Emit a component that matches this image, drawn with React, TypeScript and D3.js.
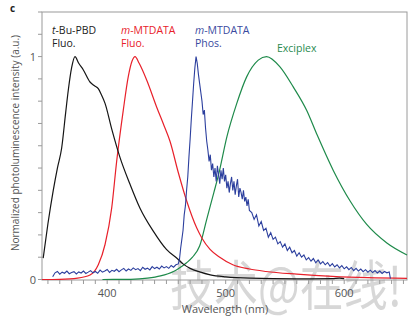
import React from "react";
import * as d3 from "d3";

const W = 418, H = 323;

const blackWl = [346, 350, 354.5, 358, 361.6, 365, 367.2, 370, 372.8, 376, 379.9, 385.5, 389, 392.5, 395, 398.2, 403.8, 410.8, 419.3, 427.7, 438.9, 450, 460, 464, 470, 478, 487, 500, 520, 560, 590, 596, 600];
const blackVal = [0.096, 0.25, 0.4, 0.5, 0.59, 0.75, 0.85, 0.95, 1.0, 0.97, 0.94, 0.886, 0.87, 0.856, 0.83, 0.79, 0.676, 0.548, 0.427, 0.32, 0.217, 0.135, 0.09, 0.07, 0.05, 0.034, 0.021, 0.012, 0.006, 0.003, 0.004, 0.006, 0.004];

const redWl = [345, 360, 375, 385.5, 392.5, 398.2, 403.8, 408, 413.6, 417.8, 421, 423.5, 427, 433.4, 441.8, 448, 453, 460, 467.1, 475.5, 480, 486.8, 495, 506, 520, 534, 560, 590, 620, 653];
const redVal = [0.0, 0.001, 0.006, 0.02, 0.066, 0.157, 0.32, 0.53, 0.76, 0.91, 0.98, 1.0, 0.97, 0.894, 0.773, 0.69, 0.62, 0.48, 0.352, 0.232, 0.185, 0.135, 0.1, 0.066, 0.047, 0.036, 0.024, 0.014, 0.008, 0.005];

const greenWl = [396, 420, 434, 445, 456, 460, 467, 472, 478, 484, 490, 494, 501, 509.3, 517.7, 527.5, 534.5, 545.8, 557, 568.4, 576.8, 590.9, 605, 619, 636, 653];
const greenVal = [0.0, 0.001, 0.006, 0.016, 0.036, 0.048, 0.075, 0.1, 0.15, 0.27, 0.39, 0.47, 0.64, 0.789, 0.909, 0.984, 1.0, 0.954, 0.864, 0.758, 0.653, 0.488, 0.352, 0.247, 0.164, 0.11];

const blueWl = [
  354, 356, 358, 360, 362, 364, 366, 368, 370, 372, 374, 376, 378, 380, 382, 384, 386, 388, 390, 392,
  394, 396, 398, 400, 402, 404, 406, 408, 410, 412, 414, 416, 418, 420, 422, 424, 426, 428, 430, 432,
  434, 436, 438, 440, 442, 444, 446, 448, 450, 452, 454, 456, 458, 460,
  461, 462, 463, 464, 465, 466, 467, 468, 469, 470, 471, 472, 473, 474, 475, 476, 477, 478, 479, 480,
  481, 482, 483, 484, 485, 486, 487, 488, 489, 490, 491, 492, 493, 494, 495, 496, 497, 498, 499, 500,
  501, 502, 503, 504, 505, 506, 507, 508, 509, 510, 511, 512, 513, 514, 515, 516, 517, 518, 519, 520,
  522, 524, 526, 528, 530, 532, 534, 536, 538, 540, 542, 544, 546, 548, 550, 552, 554, 556, 558, 560,
  562, 564, 566, 568, 570, 572, 574, 576, 578, 580, 582, 584, 586, 588, 590, 592, 594, 596, 598, 600,
  602, 604, 606, 608, 610, 612, 614, 616, 618, 620, 622, 624, 626, 628, 630, 632, 634, 636, 638, 639,
];
const blueVal = [
  0.012, 0.03, 0.036, 0.024, 0.033, 0.028, 0.038, 0.026, 0.031, 0.035, 0.025, 0.034, 0.029, 0.038, 0.027, 0.033, 0.04, 0.03, 0.036, 0.028,
  0.042, 0.033, 0.038, 0.045, 0.032, 0.041, 0.037, 0.046, 0.035, 0.043, 0.05, 0.038, 0.047, 0.041, 0.052, 0.044, 0.049, 0.04, 0.055, 0.046,
  0.051, 0.043, 0.058, 0.049, 0.055, 0.047, 0.06, 0.052, 0.058, 0.05, 0.063, 0.055, 0.066, 0.07,
  0.09, 0.14, 0.18, 0.22, 0.29, 0.33, 0.4, 0.46, 0.55, 0.63, 0.72, 0.8, 0.88, 0.95, 1.0, 0.97, 0.92, 0.88, 0.84, 0.8,
  0.74, 0.76, 0.68, 0.62, 0.58, 0.53, 0.56, 0.49, 0.52, 0.46, 0.5, 0.44, 0.51, 0.47, 0.43, 0.49, 0.45, 0.5, 0.44, 0.47,
  0.41, 0.44, 0.39, 0.43, 0.46, 0.4, 0.44, 0.38, 0.42, 0.45, 0.37, 0.41, 0.39, 0.36, 0.4, 0.35, 0.37, 0.33, 0.36, 0.31,
  0.3, 0.27, 0.29, 0.24, 0.26, 0.22, 0.23, 0.19, 0.21, 0.18, 0.19, 0.16, 0.17, 0.145, 0.16, 0.13, 0.145, 0.12, 0.13, 0.105,
  0.12, 0.1, 0.11, 0.088, 0.098, 0.082, 0.094, 0.075, 0.088, 0.07, 0.08, 0.066, 0.076, 0.06, 0.071, 0.056, 0.066, 0.052, 0.062, 0.048,
  0.057, 0.044, 0.054, 0.04, 0.05, 0.038, 0.047, 0.035, 0.044, 0.033, 0.042, 0.031, 0.04, 0.029, 0.038, 0.027, 0.036, 0.03, 0.034, 0.004,
];

const yTicks = [0, 0.1, 0.2, 0.3, 0.4, 0.5, 0.6, 0.7, 0.8, 0.9, 1.0, 1.1, 1.2];
const yLabels = [0, 1];
const xTicks = d3.range(350, 651, 10);
const xLabels = [400, 500, 600];

const FONT = "'Open Sans', 'DejaVu Sans', sans-serif";

export default function App() {
  const x = d3.scaleLinear().domain([345, 653]).range([42, 407]);
  const y = d3.scaleLinear().domain([0, 1.2]).range([279.5, 12]);
  const smooth = (wl: number[], v: number[]) =>
    d3.line<number>().x((_, i) => x(wl[i])).y((d) => y(d)).curve(d3.curveMonotoneX)(v) || "";
  const jag = (wl: number[], v: number[]) =>
    d3.line<number>().x((_, i) => x(wl[i])).y((d) => y(d))(v) || "";

  const axisColor = "#9a9a9a";
  const textColor = "#555";

  return (
    <svg width={W} height={H} style={{ position: "absolute", left: 0, top: 0, background: "#fff" }} fontFamily={FONT}>
      {/* watermark */}
      <text
        x={170}
        y={306}
        fontSize={54}
        textLength={232}
        lengthAdjust="spacingAndGlyphs"
        fontFamily="'Noto Sans CJK SC', sans-serif"
        fill="#bdbdbd"
        opacity={0.6}
      >
        技术@在线!
      </text>

      {/* frame */}
      <rect x={42} y={12} width={365} height={268} fill="none" stroke={axisColor} strokeWidth={1} />

      {/* y ticks */}
      {yTicks.map((t) => (
        <line key={"yt" + t} x1={38} x2={42} y1={y(t)} y2={y(t)} stroke={axisColor} strokeWidth={1} />
      ))}
      {yLabels.map((t) => (
        <text key={"yl" + t} x={36} y={y(t) + 4} fontSize={11} fill={textColor} textAnchor="end">
          {t}
        </text>
      ))}

      {/* x ticks */}
      {xTicks.map((t) => (
        <line key={"xt" + t} x1={x(t)} x2={x(t)} y1={280} y2={284} stroke={axisColor} strokeWidth={1} />
      ))}
      {xLabels.map((t) => (
        <text key={"xl" + t} x={x(t)} y={297} fontSize={11} fill={textColor} textAnchor="middle">
          {t}
        </text>
      ))}
      <text x={225} y={313} fontSize={11} fill={textColor} textAnchor="middle">
        Wavelength (nm)
      </text>
      <text transform="translate(19,143) rotate(-90)" fontSize={10} fill={textColor} textAnchor="middle">
        Normalized photoluminescence intensity (a.u.)
      </text>

      {/* curves */}
      <path d={smooth(greenWl, greenVal)} fill="none" stroke="#1e8a4a" strokeWidth={1.2} />
      <path d={smooth(redWl, redVal)} fill="none" stroke="#e8202a" strokeWidth={1.2} />
      <path d={smooth(blackWl, blackVal)} fill="none" stroke="#151515" strokeWidth={1.2} />
      <path d={jag(blueWl, blueVal)} fill="none" stroke="#2c3f9e" strokeWidth={1.1} />

      {/* labels */}
      <text x={10} y={12} fontSize={10} fontWeight={700} fill="#222">c</text>
      <text x={52} y={34} fontSize={10.5} fill="#222">
        <tspan fontStyle="italic">t</tspan>-Bu-PBD
      </text>
      <text x={52} y={47} fontSize={10.5} fill="#222">Fluo.</text>
      <text x={121} y={34} fontSize={10.5} fill="#e8202a">
        <tspan fontStyle="italic">m</tspan>-MTDATA
      </text>
      <text x={121} y={47} fontSize={10.5} fill="#e8202a">Fluo.</text>
      <text x={195} y={34} fontSize={10.5} fill="#3a4aa0">
        <tspan fontStyle="italic">m</tspan>-MTDATA
      </text>
      <text x={195} y={47} fontSize={10.5} fill="#3a4aa0">Phos.</text>
      <text x={277} y={52} fontSize={10.5} fill="#2a8a50">Exciplex</text>
    </svg>
  );
}
